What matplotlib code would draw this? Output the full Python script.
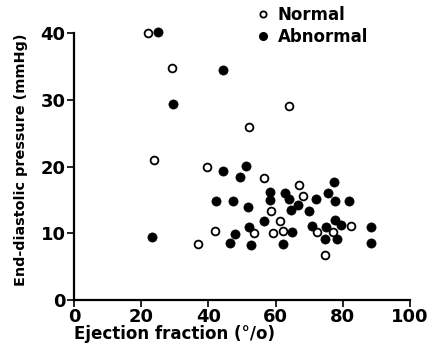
import matplotlib
matplotlib.use("Agg")
import matplotlib.pyplot as plt
from matplotlib.lines import Line2D

# Data
normal_ef = [21.9, 29.3, 52.0, 64.0, 23.7, 39.7, 56.4, 67.1, 68.2, 58.6,
             61.2, 42.1, 53.5, 59.2, 62.2, 36.9, 72.4, 77.2, 82.3, 74.6]
normal_edp = [40.0, 34.8, 25.9, 29.1, 21.0, 20.0, 18.3, 17.3, 15.6, 13.3,
              11.8, 10.4, 10.1, 10.0, 10.3, 8.4, 10.2, 10.2, 11.1, 6.8]

abnormal_ef = [24.9, 44.3, 29.6, 44.4, 51.3, 49.3, 58.3, 62.8, 64.1, 42.3,
               47.2, 58.2, 51.8, 66.8, 64.7, 69.9, 56.5, 52.1, 48.0, 64.9,
               23.2, 46.4, 52.6, 62.3, 70.7, 77.3, 75.7, 71.9, 77.6, 81.9,
               77.6, 79.6, 75.0, 74.8, 78.4, 88.5, 88.5]
abnormal_edp = [40.2, 34.5, 29.4, 19.4, 20.1, 18.4, 16.2, 16.1, 15.2, 14.9,
                14.9, 15.0, 13.9, 14.3, 13.5, 13.3, 11.8, 11.0, 9.9, 10.2,
                9.4, 8.5, 8.2, 8.4, 11.1, 17.7, 16.0, 15.1, 14.8, 14.9,
                12.0, 11.3, 11.0, 9.2, 9.2, 11.0, 8.5]

x_ticks = [0, 20, 40, 60, 80, 100]
y_ticks = [0, 10, 20, 30, 40]
series_labels = ["Normal", "Abnormal"]
x_label = "Ejection fraction (°/o)"
y_label = "End-diastolic pressure (mmHg)"

plt.rcParams['font.family'] = ['DejaVu Sans']
FS = 12

fig = plt.figure(figsize=(4.35, 3.46), dpi=100)
ax = fig.add_axes([74 / 435, 46 / 346, (410 - 74) / 435, (300 - 33.3) / 346])

ax.plot(normal_ef, normal_edp, linestyle='none', marker='o', ms=5.6,
        mfc='white', mec='black', mew=1.3, clip_on=False)
ax.plot(abnormal_ef, abnormal_edp, linestyle='none', marker='o', ms=6.6,
        mfc='black', mec='black', mew=0.5, clip_on=False)

ax.set_xlim(0, 100)
ax.set_ylim(0, 40)
ax.set_xticks(x_ticks)
ax.set_yticks(y_ticks)
ax.set_xticklabels([str(t) for t in x_ticks], fontsize=FS + 1, fontweight='bold')
ax.set_yticklabels([str(t) for t in y_ticks], fontsize=FS + 1, fontweight='bold')
ax.tick_params(axis='both', direction='out', length=5, width=1.2, pad=1)
ax.tick_params(axis='x', pad=1)
for s in ['top', 'right']:
    ax.spines[s].set_visible(False)
for s in ['left', 'bottom']:
    ax.spines[s].set_linewidth(1.6)

ax.set_xlabel(x_label, fontsize=FS, fontweight='bold', loc='left', labelpad=-1)
ax.set_ylabel(y_label, fontsize=10.4, fontweight='bold',
              loc='top', labelpad=9)

handles = [
    Line2D([], [], linestyle='none', marker='o', ms=4.5, mfc='white',
           mec='black', mew=1.3),
    Line2D([], [], linestyle='none', marker='o', ms=5.5, mfc='black',
           mec='black'),
]
fig.legend(handles, series_labels, loc='upper left',
           bbox_to_anchor=(246 / 435, 1 + 6 / 346), frameon=False,
           prop={'size': FS, 'weight': 'bold'}, handlelength=0.6,
           handletextpad=0.6, labelspacing=0.25, borderpad=0.2)

fig.savefig("out.png", dpi=100)
